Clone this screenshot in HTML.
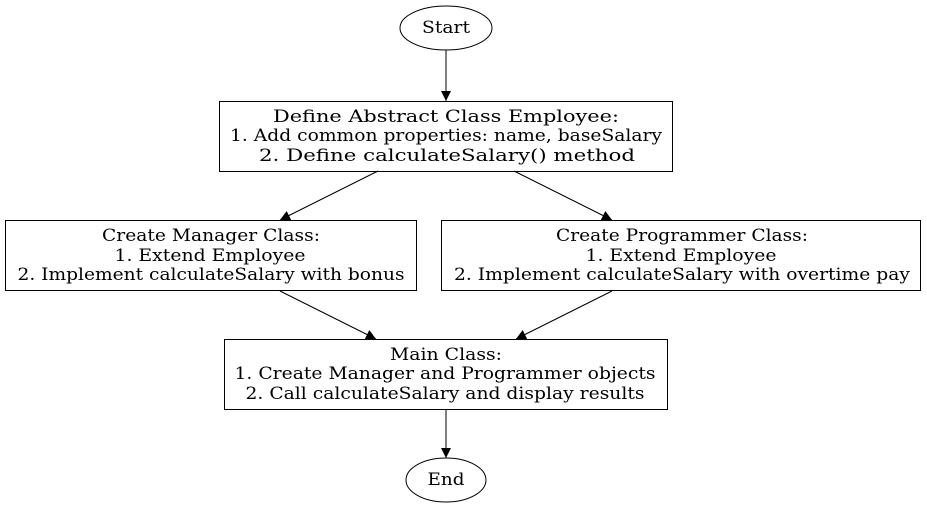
<!DOCTYPE html>
<html><head><meta charset="utf-8"><style>
html,body{margin:0;padding:0;background:#fff;}
svg{display:block;}
text{font-family:"DejaVu Serif","Liberation Serif",serif;font-size:17px;fill:#000;}
</style></head><body>
<svg width="927" height="511" viewBox="0 0 927 511" xmlns="http://www.w3.org/2000/svg">
<defs><marker id="a" markerWidth="10" markerHeight="10" refX="10" refY="5" orient="auto" markerUnits="userSpaceOnUse"><path d="M0,0 L10,5 L0,10 z" fill="#000"/></marker></defs>
<g fill="none" stroke="#000" stroke-width="1">
<ellipse cx="446" cy="28" rx="46" ry="22"/>
<rect x="219.5" y="101.5" width="453" height="70"/>
<rect x="5.5" y="220.5" width="411" height="70"/>
<rect x="441.5" y="220.5" width="479" height="70"/>
<rect x="224.5" y="339.5" width="443" height="70"/>
<ellipse cx="446" cy="480" rx="40" ry="22"/>
<line x1="446" y1="50" x2="446" y2="101" marker-end="url(#a)"/>
<line x1="378" y1="171" x2="280" y2="220" marker-end="url(#a)"/>
<line x1="514" y1="171" x2="612" y2="220" marker-end="url(#a)"/>
<line x1="280" y1="291" x2="376" y2="339" marker-end="url(#a)"/>
<line x1="612" y1="291" x2="516" y2="339" marker-end="url(#a)"/>
<line x1="446" y1="409" x2="446" y2="458" marker-end="url(#a)"/>
</g>
<g text-anchor="middle">
<text x="446" y="33" textLength="48" lengthAdjust="spacingAndGlyphs">Start</text>
<text x="446" y="122" textLength="346" lengthAdjust="spacingAndGlyphs">Define Abstract Class Employee:</text>
<text x="446" y="141" textLength="432" lengthAdjust="spacingAndGlyphs">1. Add common properties: name, baseSalary</text>
<text x="447" y="161" textLength="376" lengthAdjust="spacingAndGlyphs">2. Define calculateSalary() method</text>
<text x="211" y="241" textLength="218" lengthAdjust="spacingAndGlyphs">Create Manager Class:</text>
<text x="210" y="261" textLength="191" lengthAdjust="spacingAndGlyphs">1. Extend Employee</text>
<text x="211" y="280" textLength="387" lengthAdjust="spacingAndGlyphs">2. Implement calculateSalary with bonus</text>
<text x="682" y="241" textLength="252" lengthAdjust="spacingAndGlyphs">Create Programmer Class:</text>
<text x="681" y="261" textLength="191" lengthAdjust="spacingAndGlyphs">1. Extend Employee</text>
<text x="682" y="280" textLength="456" lengthAdjust="spacingAndGlyphs">2. Implement calculateSalary with overtime pay</text>
<text x="446" y="360" textLength="112" lengthAdjust="spacingAndGlyphs">Main Class:</text>
<text x="445" y="379" textLength="421" lengthAdjust="spacingAndGlyphs">1. Create Manager and Programmer objects</text>
<text x="445" y="399" textLength="399" lengthAdjust="spacingAndGlyphs">2. Call calculateSalary and display results</text>
<text x="446" y="485" textLength="37" lengthAdjust="spacingAndGlyphs">End</text>
</g>
</svg>
</body></html>
